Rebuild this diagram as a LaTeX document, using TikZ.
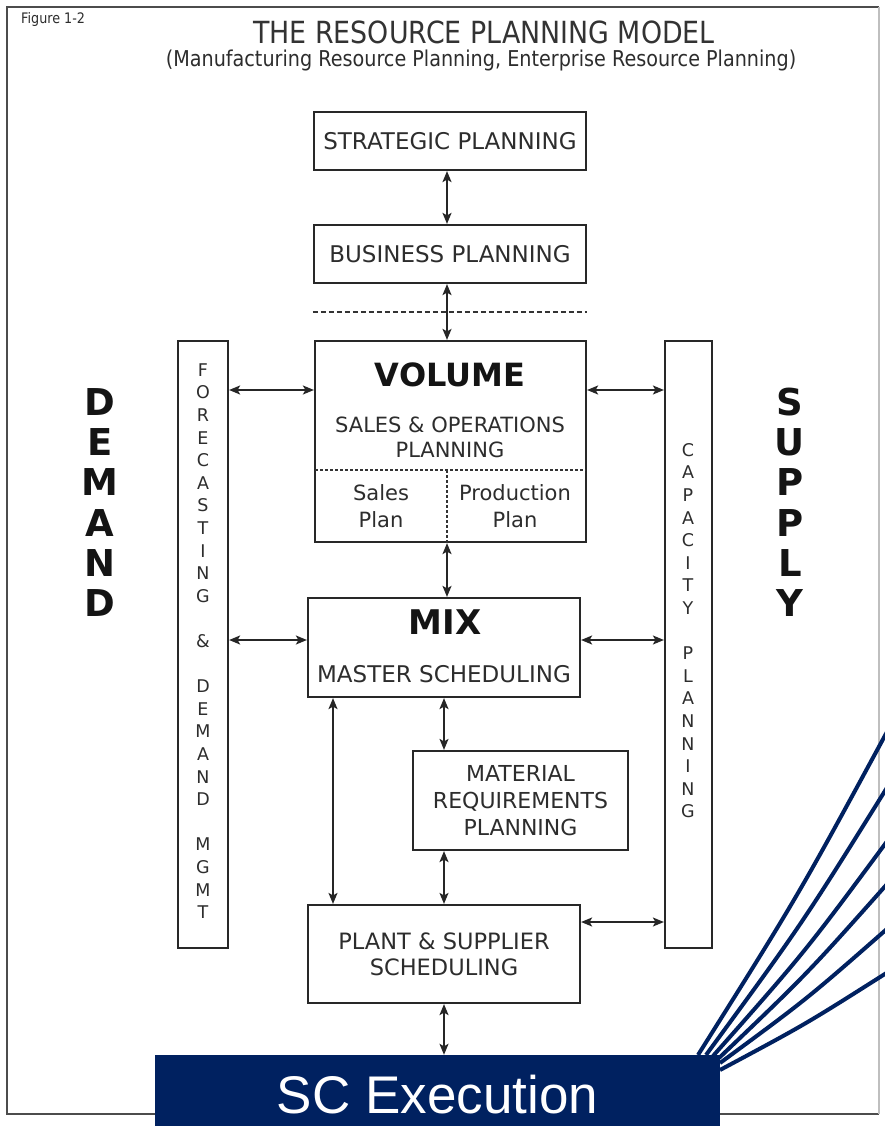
\documentclass[tikz,border=0pt]{standalone}
\usepackage{fontspec}
\setmainfont{DejaVu Sans}
\newfontfamily\condfont[FakeStretch=0.88]{DejaVu Sans}
\newfontfamily\arialfont{Liberation Sans}
\usetikzlibrary{arrows.meta}
\definecolor{navy}{RGB}{0,33,96}
\definecolor{ink}{RGB}{45,45,45}
\definecolor{rule}{RGB}{40,40,40}

\tikzset{
  box/.style={draw=rule, line width=2.2pt, fill=white, inner sep=0pt, align=center, text=ink},
  col/.style={draw=rule, line width=2.2pt, fill=white, inner sep=0pt},
  txt/.style={inner sep=0pt, text=ink, align=center},
  colletter/.style={inner sep=0pt, text=ink, font=\fontsize{17.5}{17.5}\selectfont},
  bigletter/.style={inner sep=0pt, text=black!92, font=\bfseries\fontsize{37}{37}\selectfont},
  dbl/.style={{Stealth[length=11pt,width=9pt,inset=2.5pt]}-{Stealth[length=11pt,width=9pt,inset=2.5pt]}, line width=1.6pt, draw=black!85},
  divider/.style={line width=2pt, draw=black!80, dash pattern=on 5pt off 3pt},
  split/.style={line width=1.8pt, draw=black!80, dash pattern=on 2.5pt off 2.5pt},
  fan/.style={line width=4pt, draw=navy},
}

\begin{document}
\begin{tikzpicture}[x=1pt,y=-1pt]
\useasboundingbox (0,0) rectangle (885,1126);
\fill[white] (0,0) rectangle (885,1126);

% outer frame
\draw[line width=2pt, draw=black!70] (879,7) -- (7,7) -- (7,1114) -- (879,1114);
\draw[line width=1.5pt, draw=black!25] (879,7) -- (879,1114);

% headings
\node[txt, anchor=west, font=\condfont\fontsize{14.5}{14.5}\selectfont] (fig) at (21,20) {Figure 1-2};
\node[txt, font=\condfont\fontsize{30.5}{30.5}\selectfont, text=black!80] (title) at (484,32) {THE RESOURCE PLANNING MODEL};
\node[txt, font=\condfont\fontsize{21.8}{21.8}\selectfont] (subtitle) at (481,60) {(Manufacturing Resource Planning, Enterprise Resource Planning)};

% planning boxes
\node[box, minimum width=272pt, minimum height=58pt, font=\fontsize{23}{27}\selectfont] (strat) at (450,141) {STRATEGIC PLANNING};
\node[box, minimum width=272pt, minimum height=58pt, font=\fontsize{23}{27}\selectfont] (bus) at (450,254) {BUSINESS PLANNING};
\node[box, minimum width=271pt, minimum height=201pt] (vol) at (450.5,441.5) {};
\node[box, minimum width=272pt, minimum height=99pt] (mix) at (444,647.5) {};
\node[box, minimum width=215pt, minimum height=99pt, font=\fontsize{22}{27}\selectfont] (mrp) at (520.5,800.5) {MATERIAL\\REQUIREMENTS\\PLANNING};
\node[box, minimum width=272pt, minimum height=98pt, font=\fontsize{22.5}{26}\selectfont] (plant) at (444,954) {PLANT \& SUPPLIER\\SCHEDULING};

% side columns
\node[col, minimum width=50pt, minimum height=607pt] (fc) at (203,644.5) {};
\node[col, minimum width=47pt, minimum height=607pt] (cap) at (688.5,644.5) {};

% volume box contents
\node[txt, font=\bfseries\fontsize{32}{32}\selectfont, text=black!92] (voltitle) at (450,375) {VOLUME};
\node[txt, font=\fontsize{21}{25}\selectfont] (sop) at (450,437) {SALES \& OPERATIONS\\PLANNING};
\coordinate (splitL) at (315,470);
\coordinate (splitR) at (586,470);
\coordinate (splitT) at (447,470);
\draw[split] (splitL) -- (splitR);
\draw[split] (splitT) -- (splitT |- vol.south);
\node[txt, font=\fontsize{21}{27}\selectfont] (salesplan) at (381,506) {Sales\\Plan};
\node[txt, font=\fontsize{21}{27}\selectfont] (prodplan) at (515,506) {Production\\Plan};

% mix box contents
\node[txt, font=\bfseries\fontsize{34}{34}\selectfont, text=black!92] (mixtitle) at (445,622) {MIX};
\node[txt, font=\fontsize{23}{23}\selectfont] (mps) at (444,674) {MASTER SCHEDULING};

% column lettering
\foreach \k/\ch in {0/F,1/O,2/R,3/E,4/C,5/A,6/S,7/T,8/I,9/N,10/G,12/\&,14/D,15/E,16/M,17/A,18/N,19/D,21/M,22/G,23/M,24/T}
  \node[colletter] (fcl\k) at (203,{370+\k*22.6}) {\ch};
\foreach \k/\ch in {0/C,1/A,2/P,3/A,4/C,5/I,6/T,7/Y,9/P,10/L,11/A,12/N,13/N,14/I,15/N,16/G}
  \node[colletter] (capl\k) at (688,{450+\k*22.6}) {\ch};

% demand / supply
\foreach \k/\ch in {0/D,1/E,2/M,3/A,4/N,5/D}
  \node[bigletter] (dem\k) at (100,{402+\k*40.2}) {\ch};
\foreach \k/\ch in {0/S,1/U,2/P,3/P,4/L,5/Y}
  \node[bigletter] (sup\k) at (790,{402+\k*40.2}) {\ch};

% divider under business planning
\coordinate (divy) at (0,312);
\draw[divider] (bus.west |- divy) -- (bus.east |- divy);

% connectors
\coordinate (ax) at (447,0);
\coordinate (ax2) at (444,0);
\coordinate (ax3) at (333,0);
\coordinate (r1) at (0,390);
\coordinate (r2) at (0,640);
\coordinate (r3) at (0,922);
\draw[dbl] (strat.south -| ax) -- (bus.north -| ax);
\draw[dbl] (bus.south -| ax) -- (vol.north -| ax);
\draw[dbl] (vol.south -| ax) -- (mix.north -| ax);
\draw[dbl] (mix.south -| ax2) -- (mrp.north -| ax2);
\draw[dbl] (mrp.south -| ax2) -- (plant.north -| ax2);
\draw[dbl] (mix.south -| ax3) -- (plant.north -| ax3);
\draw[dbl] (fc.east |- r1) -- (vol.west |- r1);
\draw[dbl] (vol.east |- r1) -- (cap.west |- r1);
\draw[dbl] (fc.east |- r2) -- (mix.west |- r2);
\draw[dbl] (mix.east |- r2) -- (cap.west |- r2);
\draw[dbl] (plant.east |- r3) -- (cap.west |- r3);

% execution box and fan of links
\coordinate (s1) at (698,1055);
\coordinate (s2) at (706,1055);
\coordinate (s3) at (713,1056);
\coordinate (s4) at (719,1058);
\coordinate (s5) at (720,1063);
\coordinate (s6) at (720,1070);
\coordinate (e1) at (888,730);
\coordinate (e2) at (888,786);
\coordinate (e3) at (888,840);
\coordinate (e4) at (888,883);
\coordinate (e5) at (888,928);
\coordinate (e6) at (888,972);
\draw[fan] (s1) .. controls (798,896) .. (e1);
\draw[fan] (s2) .. controls (802,924) .. (e2);
\draw[fan] (s3) .. controls (805,952) .. (e3);
\draw[fan] (s4) .. controls (807,974) .. (e4);
\draw[fan] (s5) .. controls (807,999) .. (e5);
\draw[fan] (s6) .. controls (806,1024) .. (e6);

\node[fill=navy, minimum width=565pt, minimum height=71pt, inner sep=0pt] (sc) at (437.5,1090.5) {};
\node[inner sep=0pt, text=white, font=\arialfont\fontsize{53}{53}\selectfont] (sctext) at (437.5,1095) {SC Execution};
\draw[dbl] (plant.south -| ax2) -- (sc.north -| ax2);
\end{tikzpicture}
\end{document}
